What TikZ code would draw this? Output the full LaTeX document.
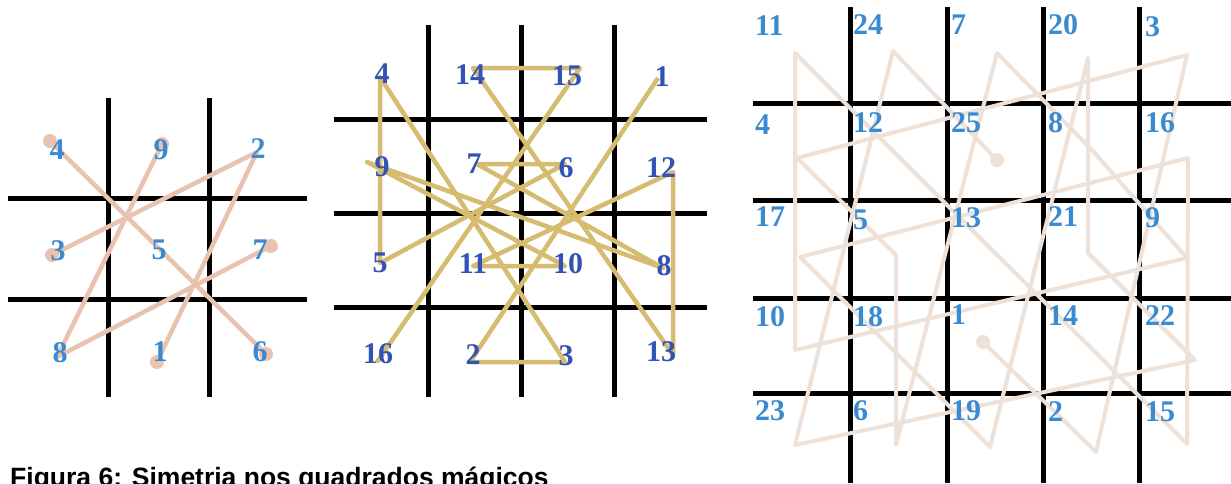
\documentclass[tikz,border=0pt]{standalone}
\usepackage{fontspec}
\setmainfont{Liberation Serif}
\newfontfamily\capfont{Liberation Sans}
\definecolor{numblue}{RGB}{58,138,210}
\definecolor{numdark}{RGB}{50,82,182}
\definecolor{pinkline}{RGB}{234,194,176}
\definecolor{goldline}{RGB}{214,188,112}
\definecolor{beigeline}{RGB}{238,226,216}
\begin{document}
\begin{tikzpicture}[x=1pt,y=-1pt,
  gridline/.style={line width=5pt,black},
  pathline/.style={line width=4.5pt,line join=round},
  numlight/.style={inner sep=0pt,text=numblue,font=\fontsize{30}{30}\selectfont\bfseries},
  numdeep/.style={inner sep=0pt,text=numdark,font=\fontsize{30}{30}\selectfont\bfseries},
  numright/.style={numlight,anchor=west},
  dotmark/.style={radius=7pt}]
\useasboundingbox (0,0) rectangle (1231,483);
\clip (0,0) rectangle (1231,483);
\fill[white] (0,0) rectangle (1231,483);

% ---------- left 3x3 grid ----------
\draw[gridline] (8,198) -- (307,198) (8,299) -- (307,299)
                (108,98) -- (108,397) (209,98) -- (209,397);
\coordinate (la1) at (157,362); \coordinate (la2) at (257,152); \coordinate (la3) at (52,255);
\coordinate (lb4) at (50,141);  \coordinate (lb6) at (266,354);
\coordinate (lc7) at (271,246); \coordinate (lc8) at (57,357);  \coordinate (lc9) at (162,144);
\draw[pathline,pinkline] (la1) -- (la2) -- (la3);
\draw[pathline,pinkline] (lb4) -- (lb6);
\draw[pathline,pinkline] (lc7) -- (lc8) -- (lc9);
\foreach \p in {la1,la3,lb4,lb6,lc7,lc9} \fill[pinkline] (\p) circle[dotmark];
\node[numlight] (L4) at (57,150) {4};
\node[numlight] (L9) at (161,150) {9};
\node[numlight] (L2) at (258,149) {2};
\node[numlight] (L3) at (58,251) {3};
\node[numlight] (L5) at (159,250) {5};
\node[numlight] (L7) at (260,250) {7};
\node[numlight] (L8) at (60,353) {8};
\node[numlight] (L1) at (160,352) {1};
\node[numlight] (L6) at (260,352) {6};

% ---------- middle 4x4 grid ----------
\draw[gridline] (334,119) -- (707,119) (334,213) -- (707,213) (334,307) -- (707,307)
                (428,25) -- (428,397) (521,25) -- (521,397) (614,25) -- (614,397);
\coordinate (m1) at (658,78);  \coordinate (m2) at (470,362); \coordinate (m3) at (565,362);
\coordinate (m4) at (380,77);  \coordinate (m5) at (380,263); \coordinate (m6) at (565,164);
\coordinate (m7) at (477,164); \coordinate (m8) at (663,268); \coordinate (m9) at (367,162);
\coordinate (m10) at (565,266); \coordinate (m11) at (473,266); \coordinate (m12) at (673,172);
\coordinate (m13) at (673,355); \coordinate (m14) at (473,68); \coordinate (m15) at (580,68);
\coordinate (m16) at (377,362);
\draw[pathline,goldline] (m1) -- (m2) -- (m3) -- (m4) -- (m5) -- (m6) -- (m7) -- (m8)
  -- (m9) -- (m10) -- (m11) -- (m12) -- (m13) -- (m14) -- (m15) -- (m16);
\node[numdeep] (M4) at (382,74) {4};
\node[numdeep] (M14) at (470,75) {14};
\node[numdeep] (M15) at (567,76) {15};
\node[numdeep] (M1) at (662,77) {1};
\node[numdeep] (M9) at (382,167) {9};
\node[numdeep] (M7) at (474,164) {7};
\node[numdeep] (M6) at (566,168) {6};
\node[numdeep] (M12) at (661,168) {12};
\node[numdeep] (M5) at (380,263) {5};
\node[numdeep] (M11) at (473,264) {11};
\node[numdeep] (M10) at (568,264) {10};
\node[numdeep] (M8) at (664,266) {8};
\node[numdeep] (M16) at (378,354) {16};
\node[numdeep] (M2) at (473,355) {2};
\node[numdeep] (M3) at (566,356) {3};
\node[numdeep] (M13) at (661,352) {13};

% ---------- right 5x5 grid ----------
\draw[gridline] (753,103) -- (1231,103) (753,200) -- (1231,200) (753,298) -- (1231,298) (753,393) -- (1231,393)
                (850,7) -- (850,483) (947,7) -- (947,483) (1043,7) -- (1043,483) (1139,7) -- (1139,483);
\coordinate (r1) at (983,342);  \coordinate (r2) at (1096,452); \coordinate (r3) at (1187,55);
\coordinate (r4) at (797,158);  \coordinate (r5) at (896,255);  \coordinate (r6) at (896,445);
\coordinate (r7) at (997,53);   \coordinate (r8) at (1092,150); \coordinate (r9) at (1187,258);
\coordinate (r10) at (795,350); \coordinate (r11) at (795,53);  \coordinate (r12) at (893,151);
\coordinate (r13) at (991,249); \coordinate (r14) at (1089,346); \coordinate (r15) at (1187,444);
\coordinate (r16) at (1188,158); \coordinate (r17) at (800,257); \coordinate (r18) at (895,352);
\coordinate (r19) at (990,447); \coordinate (r20) at (1088,58); \coordinate (r21) at (1088,253);
\coordinate (r22) at (1195,360); \coordinate (r23) at (795,445); \coordinate (r24) at (893,51);
\coordinate (r25) at (997,160);
\draw[pathline,line width=4pt,beigeline] (r1) -- (r2) -- (r3) -- (r4) -- (r5) -- (r6) -- (r7) -- (r8)
  -- (r9) -- (r10) -- (r11) -- (r12) -- (r13) -- (r14) -- (r15) -- (r16) -- (r17) -- (r18)
  -- (r19) -- (r20) -- (r21) -- (r22) -- (r23) -- (r24) -- (r25);
\fill[beigeline] (r1) circle[dotmark] (r25) circle[dotmark];
% row 1
\node[numright] (R11) at (755,26) {11};
\node[numright] (R24) at (853,25) {24};
\node[numright] (R7)  at (951,25) {7};
\node[numright] (R20) at (1048,25) {20};
\node[numright] (R3)  at (1145,27) {3};
% row 2
\node[numright] (R4)  at (755,125) {4};
\node[numright] (R12) at (853,123) {12};
\node[numright] (R25) at (951,123) {25};
\node[numright] (R8)  at (1048,123) {8};
\node[numright] (R16) at (1145,123) {16};
% row 3
\node[numright] (R17) at (755,217) {17};
\node[numright] (R5)  at (853,220) {5};
\node[numright] (R13) at (951,218) {13};
\node[numright] (R21) at (1048,217) {21};
\node[numright] (R9)  at (1145,218) {9};
% row 4
\node[numright] (R10) at (755,317) {10};
\node[numright] (R18) at (853,317) {18};
\node[numright] (R1)  at (951,315) {1};
\node[numright] (R14) at (1048,316) {14};
\node[numright] (R22) at (1145,316) {22};
% row 5
\node[numright] (R23) at (755,411) {23};
\node[numright] (R6)  at (853,411) {6};
\node[numright] (R19) at (951,411) {19};
\node[numright] (R2)  at (1048,412) {2};
\node[numright] (R15) at (1145,412) {15};

% ---------- caption ----------
\node[anchor=base west,inner sep=0pt,font=\capfont\bfseries\fontsize{26.5}{26.5}\selectfont] (cap) at (10,486) {Figura 6: Simetria nos quadrados mágicos};
\end{tikzpicture}
\end{document}
